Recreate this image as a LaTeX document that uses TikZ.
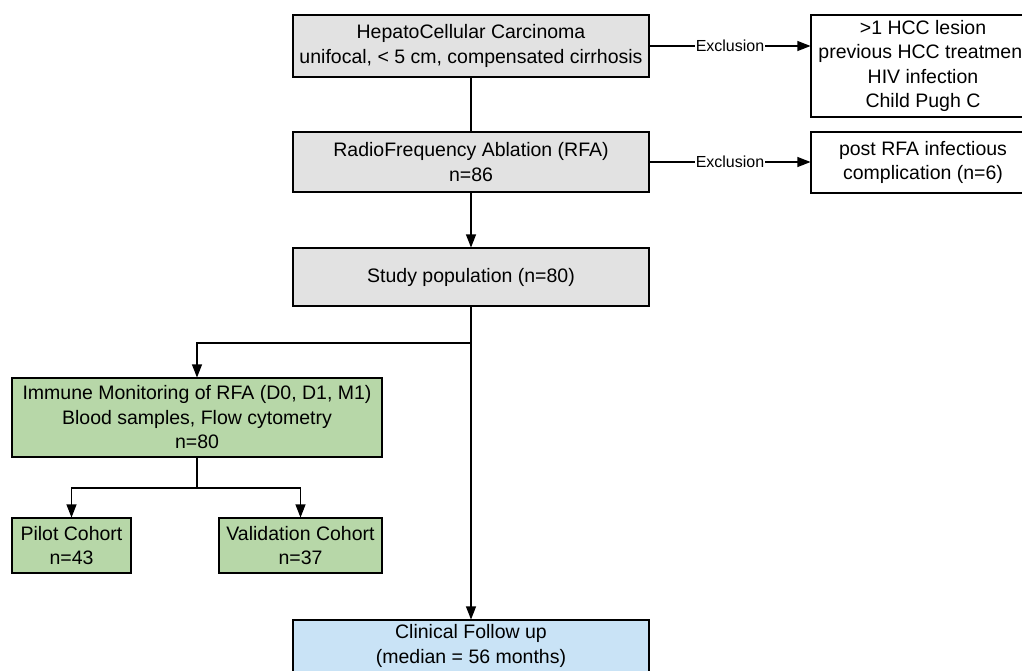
\documentclass[tikz,border=0pt]{standalone}
\usepackage{fontspec}
\setmainfont{Liberation Sans}
\usetikzlibrary{arrows.meta}
\definecolor{stepgray}{HTML}{E2E2E2}
\definecolor{monigreen}{HTML}{B7D7A8}
\definecolor{followblue}{HTML}{C9E3F6}
\tikzset{
  box/.style={draw, line width=1.1pt, align=center, inner sep=0pt},
  arr/.style={-{Triangle[length=13pt,width=10pt]}},
  exlbl/.style={fill=white, inner sep=1pt, font=\fontsize{16}{18}\selectfont}
}

\begin{document}
\begin{tikzpicture}[x=1pt, y=-1pt, line width=1.1pt,
    font=\fontsize{19.5}{24.5}\selectfont]
  %%%%% FRAME %%%%%
  \useasboundingbox (0,0) rectangle (1022,670);
  \clip (0,0) rectangle (1022,670);

  %%%%% MAIN COLUMN %%%%%
  \node[box, fill=stepgray, minimum width=356pt, minimum height=62pt] (hcc) at (471,46)
    {HepatoCellular Carcinoma\\unifocal, < 5 cm, compensated cirrhosis};
  \node[box, fill=stepgray, minimum width=356pt, minimum height=60pt] (rfa) at (471,162)
    {RadioFrequency Ablation (RFA)\\n=86};
  \node[box, fill=stepgray, minimum width=356pt, minimum height=58pt] (study) at (471,277)
    {Study population (n=80)};
  \node[box, fill=followblue, minimum width=356pt, minimum height=52pt] (clinic) at (471,646)
    {Clinical Follow up\\(median = 56 months)};

  %%%%% EXCLUSIONS %%%%%
  \node[box, fill=white, minimum width=224pt, minimum height=102pt] (exclA) at (923,66)
    {>1 HCC lesion\\previous HCC treatment\\HIV infection\\Child Pugh C};
  \node[box, fill=white, minimum width=224pt, minimum height=61pt] (exclB) at (923,162.5)
    {post RFA infectious\\complication (n=6)};

  %%%%% MONITORING %%%%%
  \node[box, fill=monigreen, minimum width=370pt, minimum height=79pt] (immune) at (197,417.5)
    {Immune Monitoring of RFA (D0, D1, M1)\\Blood samples, Flow cytometry\\n=80};
  \node[box, fill=monigreen, minimum width=119pt, minimum height=55pt] (pilot) at (71.5,545.5)
    {Pilot Cohort\\n=43};
  \node[box, fill=monigreen, minimum width=163pt, minimum height=55pt] (valid) at (300.5,545.5)
    {Validation Cohort\\n=37};

  %%%%% CONNECTORS %%%%%
  \draw (hcc) -- (rfa);
  \draw[arr] (rfa) -- (study);
  \draw[arr] (study) -- (clinic);
  \coordinate (split) at (471,343);
  \draw[arr] (split) -| (immune);
  \coordinate (fork) at (197,488);
  \draw (immune) -- (fork);
  \draw[arr] (fork) -| (pilot);
  \draw[arr] (fork) -| (valid);

  \draw[arr] (hcc.east) -- node[exlbl] {Exclusion} (hcc.east -| exclA.west);
  \draw[arr] (rfa.east) -- node[exlbl] {Exclusion} (rfa.east -| exclB.west);
\end{tikzpicture}
\end{document}
